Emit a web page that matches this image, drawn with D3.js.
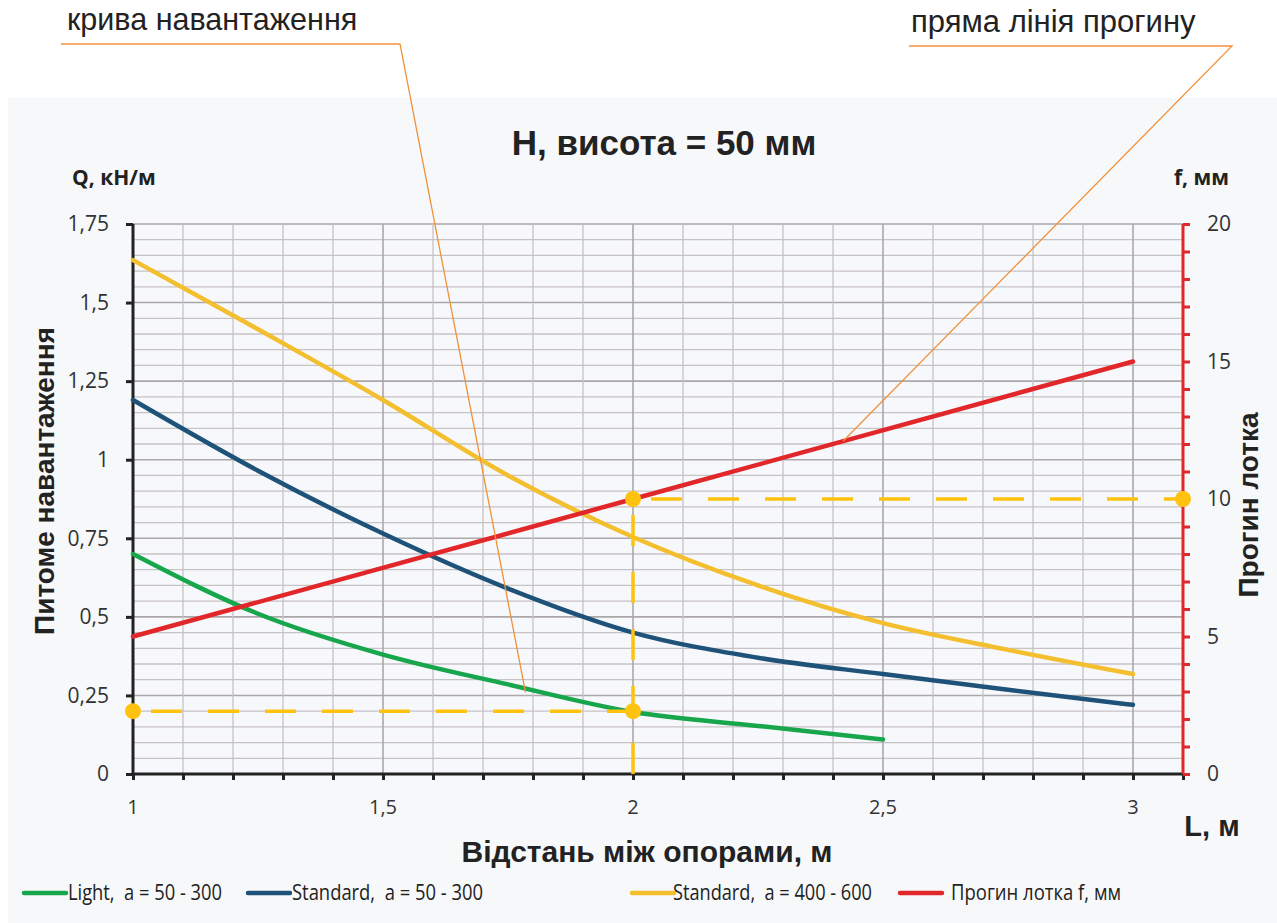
<!DOCTYPE html>
<html><head><meta charset="utf-8">
<script src="https://cdn.jsdelivr.net/npm/d3@7"></script>
<style>
body{margin:0;background:#fff;}
svg{display:block;}
</style></head>
<body>
<svg id="c" width="1277" height="923"></svg>
<script>
// ---------- data ----------
const spanL = [1, 1.25, 1.5, 1.75, 2, 2.25, 2.5, 2.75, 3];
const lightL = [1, 1.25, 1.5, 1.75, 2, 2.25, 2.5];
const lightQ = [0.70, 0.51, 0.38, 0.285, 0.197, 0.153, 0.11];
const std50Q = [1.19, 0.965, 0.765, 0.59, 0.45, 0.37, 0.318, 0.268, 0.22];
const std400Q = [1.635, 1.415, 1.19, 0.95, 0.754, 0.60, 0.48, 0.395, 0.318];
const deflL = [1, 2, 3];
const deflF = [5, 10, 15];
const xTicks = [1, 1.5, 2, 2.5, 3];
const xTickLabels = ["1", "1,5", "2", "2,5", "3"];
const qTicks = [0, 0.25, 0.5, 0.75, 1, 1.25, 1.5, 1.75];
const qTickLabels = ["0", "0,25", "0,5", "0,75", "1", "1,25", "1,5", "1,75"];
const fTicks = [0, 5, 10, 15, 20];
const seriesNames = ["Light,  a = 50 - 300", "Standard,  a = 50 - 300", "Standard,  a = 400 - 600", "Прогин лотка f, мм"];
const exampleL = 2, exampleQ = 0.2, exampleF = 10;

// ---------- layout ----------
const svg = d3.select("#c");
const colors = {green:"#17a64c", blue:"#1f5278", yellow:"#f4bf2f", red:"#e2272b", dash:"#ffc20e", orange:"#f0913a"};
const pL = 133, pR = 1183, pT = 224, pB = 774;
const x = d3.scaleLinear().domain([1, 3.1]).range([pL, pR]);
const yQ = d3.scaleLinear().domain([0, 1.75]).range([pB, pT]);
const yF = d3.scaleLinear().domain([0, 20]).range([pB, pT]);

// panel
svg.append("rect").attr("x", 8).attr("y", 98).attr("width", 1269).attr("height", 825).attr("fill", "#f7f8f9");
svg.append("rect").attr("x", pL).attr("y", pT).attr("width", pR-pL).attr("height", pB-pT).attr("fill", "#f6f8fb");

// grid
const g = svg.append("g");
d3.range(1, 36).forEach(i => {
  const v = i*0.05;
  const major = (i % 5 === 0);
  g.append("line").attr("x1", pL).attr("x2", pR).attr("y1", yQ(v)).attr("y2", yQ(v))
    .attr("stroke", major ? "#aca7a9" : "#c7c2c4").attr("stroke-width", major ? 1.6 : 1.3);
});
d3.range(1, 21).forEach(i => {
  const v = 1 + i*0.1;
  const major = (i % 5 === 0);
  g.append("line").attr("x1", x(v)).attr("x2", x(v)).attr("y1", pT).attr("y2", pB)
    .attr("stroke", major ? "#aca7a9" : "#c7c2c4").attr("stroke-width", major ? 1.6 : 1.3);
});

// axes
const fontTick = "'Open Sans', 'Noto Sans', sans-serif";
const xAxis = d3.axisBottom(x).tickValues(d3.range(0, 22).map(i => 1 + i*0.1)).tickSize(6).tickFormat("");
const xg = svg.append("g").attr("transform", `translate(0,${pB})`).call(xAxis);
xg.selectAll("path,line").attr("stroke", "#222").attr("stroke-width", 3);
xg.select("path").attr("d", `M${pL},0H${pR}`);
xTicks.forEach((v, i) => {
  svg.append("text").attr("x", x(v)).attr("y", pB + 40).attr("text-anchor", "middle")
    .attr("font-family", fontTick).attr("font-size", 20).attr("fill", "#333").text(xTickLabels[i]);
});

const yAxis = d3.axisLeft(yQ).tickValues(qTicks).tickSize(7).tickFormat((d, i) => qTickLabels[i]);
const yg = svg.append("g").attr("transform", `translate(${pL},0)`).call(yAxis);
yg.selectAll("path,line").attr("stroke", "#222").attr("stroke-width", 3);
yg.select("path").attr("d", `M0,${pB+1}V${pT}`);
yg.selectAll("text").attr("font-family", fontTick).attr("font-size", 21).attr("fill", "#333").attr("x", -24);

const fAxis = d3.axisRight(yF).tickValues(d3.range(0, 21)).tickSize(7).tickFormat(d => fTicks.includes(d) ? String(d) : "");
const fg = svg.append("g").attr("transform", `translate(${pR},0)`).call(fAxis);
fg.selectAll("path,line").attr("stroke", "#e2272b").attr("stroke-width", 3);
fg.select("path").attr("d", `M0,${pB}V${pT}`);
fg.selectAll("text").attr("font-family", fontTick).attr("font-size", 21).attr("fill", "#333").attr("x", 24);

// series lines
const lineQ = d3.line().x(d => x(d[0])).y(d => yQ(d[1])).curve(d3.curveMonotoneX);
const lineF = d3.line().x(d => x(d[0])).y(d => yF(d[1]));
const series = [
  {L: lightL, v: lightQ, c: colors.green, f: lineQ},
  {L: spanL, v: std50Q, c: colors.blue, f: lineQ},
  {L: spanL, v: std400Q, c: colors.yellow, f: lineQ},
];
series.forEach(s => {
  svg.append("path").attr("d", s.f(s.L.map((l, i) => [l, s.v[i]]))).attr("fill", "none")
    .attr("stroke", s.c).attr("stroke-width", 4.5).attr("stroke-linecap", "round");
});
svg.append("path").attr("d", lineF(deflL.map((l, i) => [l, deflF[i]]))).attr("fill", "none")
  .attr("stroke", colors.red).attr("stroke-width", 4.5).attr("stroke-linecap", "round");

// example dashed lines
const dashAttr = sel => sel.attr("stroke", colors.dash).attr("stroke-width", 3.5).attr("stroke-dasharray", "31,26").attr("fill", "none");
svg.append("line").attr("x1", x(1) + 18).attr("x2", x(exampleL)).attr("y1", yQ(exampleQ)).attr("y2", yQ(exampleQ)).call(dashAttr);
svg.append("line").attr("x1", x(exampleL)).attr("x2", x(exampleL)).attr("y1", yQ(0)).attr("y2", yF(exampleF)).call(dashAttr);
svg.append("line").attr("x1", x(exampleL) + 18).attr("x2", x(3.1)).attr("y1", yF(exampleF)).attr("y2", yF(exampleF)).call(dashAttr);
[[x(1), yQ(exampleQ)], [x(exampleL), yQ(exampleQ)], [x(exampleL), yF(exampleF)], [x(3.1), yF(exampleF)]].forEach(p => {
  svg.append("circle").attr("cx", p[0]).attr("cy", p[1]).attr("r", 8).attr("fill", colors.dash);
});

// annotation callouts
const annFont = "'Liberation Sans', Arial, sans-serif";
svg.append("text").attr("x", 67).attr("y", 30).attr("font-family", annFont).attr("font-size", 30.5).attr("fill", "#222").text("крива навантаження");
svg.append("polyline").attr("points", `61,44 400,44 ${x(1.785)},${yQ(0.26)}`).attr("fill", "none").attr("stroke", colors.orange).attr("stroke-width", 1.3);
svg.append("text").attr("x", 911).attr("y", 32).attr("font-family", annFont).attr("font-size", 31).attr("fill", "#222").text("пряма лінія прогину");
svg.append("polyline").attr("points", `909,46 1232,46 ${x(2.42)},${yF(12.1)}`).attr("fill", "none").attr("stroke", colors.orange).attr("stroke-width", 1.3);

// titles
const boldFont = "'Liberation Sans', Arial, sans-serif";
svg.append("text").attr("x", 664).attr("y", 155).attr("text-anchor", "middle").attr("font-family", boldFont)
  .attr("font-weight", "bold").attr("font-size", 35).attr("fill", "#222").text("H, висота = 50 мм");
svg.append("text").attr("x", 72).attr("y", 185).attr("font-family", fontTick).attr("font-weight", "bold").attr("font-size", 21).attr("fill", "#222").text("Q, кН/м");
svg.append("text").attr("x", 1229).attr("y", 185).attr("text-anchor", "end").attr("font-family", fontTick).attr("font-weight", "bold").attr("font-size", 21).attr("fill", "#222").text("f, мм");
svg.append("text").attr("transform", `translate(54,481) rotate(-90)`).attr("text-anchor", "middle")
  .attr("font-family", boldFont).attr("font-weight", "bold").attr("font-size", 28).attr("fill", "#222").text("Питоме навантаження");
svg.append("text").attr("transform", `translate(1258,505) rotate(-90)`).attr("text-anchor", "middle")
  .attr("font-family", boldFont).attr("font-weight", "bold").attr("font-size", 28).attr("fill", "#222").text("Прогин лотка");
svg.append("text").attr("x", 647).attr("y", 862).attr("text-anchor", "middle").attr("font-family", boldFont)
  .attr("font-weight", "bold").attr("font-size", 30).attr("fill", "#222").text("Відстань між опорами, м");
svg.append("text").attr("x", 1212).attr("y", 836).attr("text-anchor", "middle").attr("font-family", boldFont)
  .attr("font-weight", "bold").attr("font-size", 29).attr("fill", "#222").text("L, м");

// legend
const legX = [24, 248, 632, 900];
const legC = [colors.green, colors.blue, colors.yellow, colors.red];
const legTextOff = [44, 44, 41, 51];
const legW = [154, 191, 199, 170];
seriesNames.forEach((n, i) => {
  svg.append("line").attr("x1", legX[i]).attr("x2", legX[i] + 42).attr("y1", 893).attr("y2", 893)
    .attr("stroke", legC[i]).attr("stroke-width", 4.5).attr("stroke-linecap", "round");
  svg.append("text").attr("x", legX[i] + legTextOff[i]).attr("y", 900).attr("font-family", fontTick)
    .attr("font-size", 21).attr("fill", "#222").style("white-space", "pre")
    .attr("textLength", legW[i]).attr("lengthAdjust", "spacingAndGlyphs").text(n);
});
</script>
</body></html>
